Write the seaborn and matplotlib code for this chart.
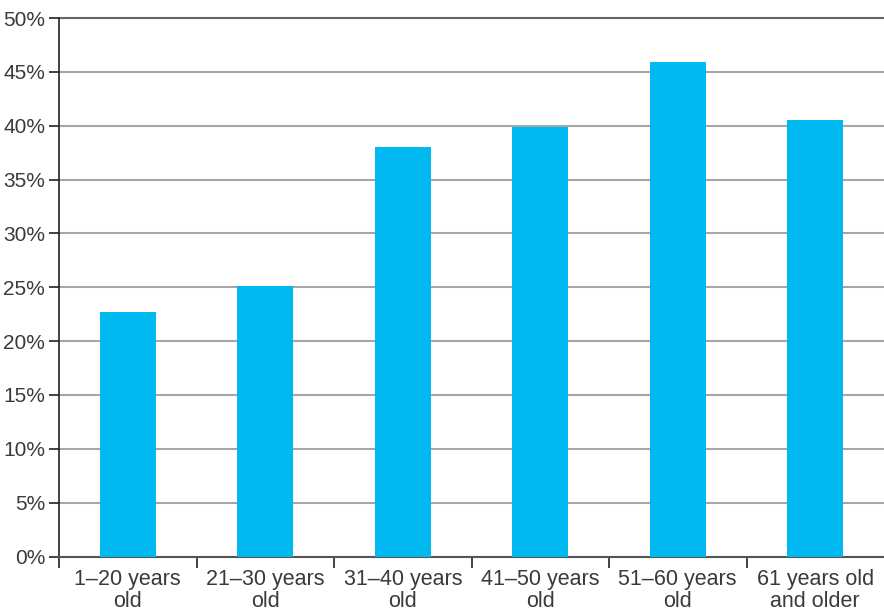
import matplotlib
matplotlib.use("Agg")
import matplotlib.pyplot as plt
import seaborn as sns
import pandas as pd

# values
age_groups = ["1–20 years\nold", "21–30 years\nold", "31–40 years\nold",
              "41–50 years\nold", "51–60 years\nold", "61 years old\nand older"]
percent = [22.7, 25.1, 38.0, 39.9, 45.9, 40.5]
y_ticks = [0, 5, 10, 15, 20, 25, 30, 35, 40, 45, 50]

df = pd.DataFrame({"Age": age_groups, "Percent": percent})

sns.set_style("white")
plt.rcParams["font.family"] = ["Liberation Sans", "DejaVu Sans"]

fig = plt.figure(figsize=(8.84, 6.13), dpi=100)
ax = fig.add_axes([59 / 884, 1 - 556.5 / 613, 1 - 59 / 884, (556.5 - 18) / 613])

sns.barplot(data=df, x="Age", y="Percent", color="#00B9F1", width=0.41,
            saturation=1, linewidth=0, ax=ax, zorder=3)

ax.set_ylim(0, 50)
ax.set_xlim(-0.5, 5.5)
ax.set_yticks(y_ticks)
ax.set_yticklabels([f"{v}%" for v in y_ticks])
ax.yaxis.grid(True, color="#a6a6a6", linewidth=1.5, zorder=0)
ax.set_axisbelow(True)
# top line is a bit darker in the original
ax.axhline(y_ticks[-1], color="#666666", linewidth=1.5, clip_on=False, zorder=1)

# ticks at the boundaries between groups, labels centered
ax.set_xticks([i - 0.5 for i in range(len(age_groups))], minor=True)
ax.tick_params(axis="x", which="minor", length=8, width=1.2, color="#222222", direction="out", bottom=True)
ax.tick_params(axis="x", which="major", length=0, pad=9, labelsize=15.5, labelcolor="#3a3a3a")
ax.tick_params(axis="y", length=7, width=1.2, color="#222222", direction="out", left=True,
               labelsize=15, labelcolor="#3a3a3a", pad=3)

for s in ["top", "right"]:
    ax.spines[s].set_visible(False)
ax.spines["left"].set_color("#222222")
ax.spines["left"].set_linewidth(1.2)
ax.spines["bottom"].set_color("#555555")
ax.spines["bottom"].set_linewidth(1.5)

ax.set_xlabel("")
ax.set_ylabel("")
for lbl in ax.get_xticklabels():
    lbl.set_linespacing(1.05)

fig.savefig("out.png", dpi=100)
